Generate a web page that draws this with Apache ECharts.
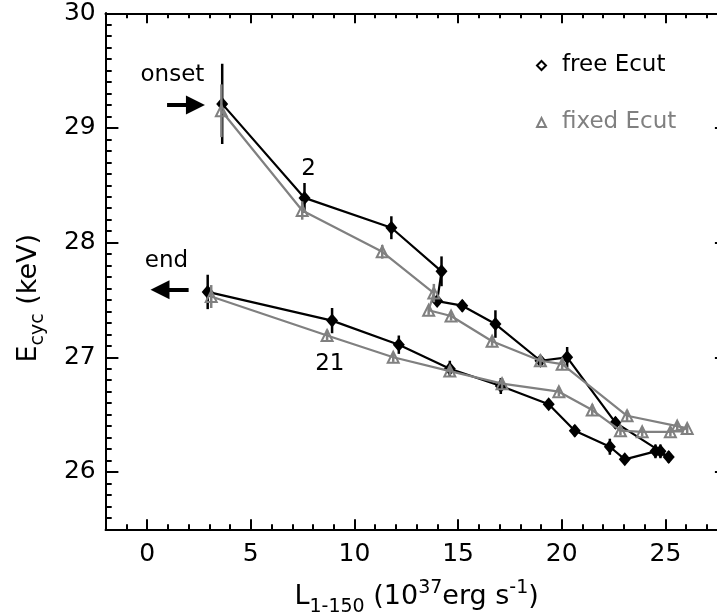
<!DOCTYPE html>
<html><head><meta charset="utf-8">
<script src="https://cdn.jsdelivr.net/npm/echarts@6/dist/echarts.min.js"></script>
<style>html,body{margin:0;padding:0;background:#fff}#c{width:717px;height:613px}</style>
</head><body><div id="c"></div>
<script>
// ---- data ----
const freeX = [3.62, 7.59, 11.78, 14.2, 13.99, 15.2, 16.8, 18.97, 20.26, 22.59, 24.76, 25.16, 24.52, 23.04, 22.32, 20.63, 19.37, 17.06, 14.6, 12.14, 8.92, 2.92];
const freeY = [29.21, 28.39, 28.13, 27.75, 27.49, 27.45, 27.29, 26.97, 27.0, 26.43, 26.18, 26.13, 26.18, 26.11, 26.22, 26.36, 26.59, 26.75, 26.9, 27.11, 27.32, 27.57];
const freeErr = [0.35, 0.13, 0.1, 0.13, 0.04, 0.05, 0.12, 0.05, 0.09, 0.05, 0.06, 0.05, 0.06, 0.04, 0.07, 0.05, 0.04, 0.07, 0.07, 0.08, 0.11, 0.15];

const fixX = [3.58, 7.48, 11.34, 13.83, 13.58, 14.66, 16.64, 18.97, 20.02, 23.15, 25.57, 26.05, 25.24, 23.88, 22.83, 21.47, 19.86, 17.12, 14.6, 11.87, 8.68, 3.09];
const fixY = [29.15, 28.28, 27.92, 27.56, 27.41, 27.36, 27.14, 26.97, 26.94, 26.49, 26.40, 26.38, 26.35, 26.35, 26.36, 26.54, 26.70, 26.77, 26.88, 27.0, 27.19, 27.53];
const fixErr = [0.23, 0.08, 0.06, 0.08, 0.04, 0.04, 0.04, 0.05, 0.05, 0.05, 0.04, 0.04, 0.04, 0.04, 0.04, 0.05, 0.04, 0.05, 0.04, 0.04, 0.05, 0.1];

const seriesNames = ['free Ecut', 'fixed Ecut'];
const xTickLabels = [0, 5, 10, 15, 20, 25];
const yTickLabels = [26, 27, 28, 29, 30];

// annotation texts and their data positions
const annoNames = ['onset', 'end', '2', '21'];
const annoX = [1.22, 0.93, 7.79, 8.81];
const annoY = [29.46, 27.84, 28.64, 26.94];
// arrows: [fromX, toX, y]
const arrowFromX = [0.96, 2.0];
const arrowToX = [2.33, 0.62];
const arrowY = [29.2, 27.59];

// ---- chart ----
const FONT = 'DejaVu Sans';
const GRAY = '#808080';
const XMIN = -2, XMAX = 28, YMIN = 25.5, YMAX = 30;
const gridRect = {left: 105.7, top: 13.3, right: -10.6, bottom: 83.7, containLabel: false, outerBoundsMode: 'none'};

function pairs(xs, ys) { return xs.map((x, i) => [x, ys[i]]); }
function triples(xs, ys, es) { return xs.map((x, i) => [x, ys[i], es[i]]); }
function errRender(color) {
  return function (params, api) {
    const x = api.value(0), y = api.value(1), e = api.value(2);
    const p1 = api.coord([x, y - e]), p2 = api.coord([x, y + e]);
    return {type: 'line', shape: {x1: p1[0], y1: p1[1], x2: p2[0], y2: p2[1]},
      style: {stroke: color, lineWidth: 2.5}};
  };
}
const axLine = {show: true, onZero: false, lineStyle: {color: '#000', width: 2}};
function tick(len, custom) {
  const t = {show: true, inside: true, length: len, lineStyle: {color: '#000', width: 2}};
  if (custom) t.customValues = custom;
  return t;
}
const labelStyle = {color: '#000', fontSize: 25, fontFamily: FONT};

const chart = echarts.init(document.getElementById('c'), null, {renderer: 'canvas'});
chart.setOption({
  animation: false,
  backgroundColor: '#fff',
  textStyle: {fontFamily: FONT},
  grid: [Object.assign({}, gridRect), Object.assign({}, gridRect)],
  xAxis: [
    // minor ticks (grid 0)
    {type: 'value', gridIndex: 0, position: 'bottom', min: XMIN, max: XMAX, interval: 1,
     axisLine: axLine, axisTick: tick(5), axisLabel: {show: false}, splitLine: {show: false}},
    {type: 'value', gridIndex: 0, position: 'top', min: XMIN, max: XMAX, interval: 1,
     axisLine: axLine, axisTick: tick(5), axisLabel: {show: false}, splitLine: {show: false}},
    // major ticks + labels (grid 1)
    {type: 'value', gridIndex: 1, position: 'bottom', min: XMIN, max: XMAX,
     axisLine: axLine, axisTick: tick(10, xTickLabels),
     axisLabel: Object.assign({show: true, margin: 13, customValues: xTickLabels}, labelStyle),
     splitLine: {show: false},
     name: '{i|L}{sub|1-150}{i| (10}{sup|37}{i|erg s}{sup|-1}{i|)}',
     nameLocation: 'middle', nameGap: 49,
     nameTextStyle: {color: '#000', fontFamily: FONT, fontSize: 27,
       rich: {i: {fontSize: 27, lineHeight: 38, fontFamily: FONT, color: '#000'},
              sub: {fontSize: 19, lineHeight: 19, verticalAlign: 'bottom', fontFamily: FONT, color: '#000'},
              sup: {fontSize: 19, lineHeight: 19, verticalAlign: 'top', fontFamily: FONT, color: '#000'}}}},
    {type: 'value', gridIndex: 1, position: 'top', min: XMIN, max: XMAX,
     axisLine: axLine, axisTick: tick(10, xTickLabels), axisLabel: {show: false}, splitLine: {show: false}}
  ],
  yAxis: [
    {type: 'value', gridIndex: 0, position: 'left', min: YMIN, max: YMAX, interval: 0.1,
     axisLine: axLine, axisTick: tick(6), axisLabel: {show: false}, splitLine: {show: false}},
    {type: 'value', gridIndex: 0, position: 'right', min: YMIN, max: YMAX, interval: 0.1,
     axisLine: axLine, axisTick: tick(6), axisLabel: {show: false}, splitLine: {show: false}},
    {type: 'value', gridIndex: 1, position: 'left', min: YMIN, max: YMAX,
     axisLine: axLine, axisTick: tick(12.7, yTickLabels),
     axisLabel: Object.assign({show: true, margin: 10, customValues: yTickLabels}, labelStyle),
     splitLine: {show: false},
     name: '{i|E}{sub|cyc}{i| (keV)}',
     nameLocation: 'middle', nameRotate: 90, nameGap: 58,
     nameTextStyle: {color: '#000', fontFamily: FONT, fontSize: 27, padding: [0, 54, 0, 0],
       rich: {i: {fontSize: 27, lineHeight: 38, fontFamily: FONT, color: '#000'},
              sub: {fontSize: 19, lineHeight: 19, verticalAlign: 'bottom', fontFamily: FONT, color: '#000'}}}},
    {type: 'value', gridIndex: 1, position: 'right', min: YMIN, max: YMAX,
     axisLine: axLine, axisTick: tick(12.7, yTickLabels), axisLabel: {show: false}, splitLine: {show: false}}
  ],
  legend: {
    orient: 'vertical', left: 531, top: 49, itemWidth: 9, itemHeight: 9, itemGap: 34,
    textStyle: {fontSize: 23, fontFamily: FONT, padding: [0, 0, 0, 11]},
    selectedMode: false,
    data: [
      {name: seriesNames[0], icon: 'diamond', itemStyle: {color: '#fff', borderColor: '#000', borderWidth: 2}, textStyle: {color: '#000'}},
      {name: seriesNames[1], icon: 'triangle', itemStyle: {color: '#fff', borderColor: GRAY, borderWidth: 2}, textStyle: {color: GRAY}}
    ]
  },
  series: [
    {type: 'custom', name: 'free err', xAxisIndex: 0, yAxisIndex: 0, z: 2,
     renderItem: errRender('#000'), encode: {x: 0, y: 1}, data: triples(freeX, freeY, freeErr), silent: true},
    {type: 'line', name: seriesNames[0], xAxisIndex: 0, yAxisIndex: 0, z: 3,
     data: pairs(freeX, freeY), symbol: 'diamond', symbolSize: [12, 14],
     itemStyle: {color: '#000'}, lineStyle: {color: '#000', width: 2.2},
     markPoint: {symbol: 'circle', symbolSize: 0, silent: true,
       label: {show: true, position: 'inside', formatter: '{b}', color: '#000', fontSize: 23, fontFamily: FONT},
       data: annoNames.map((n, i) => ({name: n, coord: [annoX[i], annoY[i]]}))},
     markLine: {silent: true, symbol: ['none', 'triangle'], symbolSize: 19,
       lineStyle: {color: '#000', width: 4, type: 'solid'}, label: {show: false},
       emphasis: {disabled: true},
       data: arrowY.map((y, i) => [{coord: [arrowFromX[i], y]}, {coord: [arrowToX[i], y]}])}},
    {type: 'custom', name: 'fixed err', xAxisIndex: 0, yAxisIndex: 0, z: 4,
     renderItem: errRender(GRAY), encode: {x: 0, y: 1}, data: triples(fixX, fixY, fixErr), silent: true},
    {type: 'line', name: seriesNames[1], xAxisIndex: 0, yAxisIndex: 0, z: 5,
     data: pairs(fixX, fixY), symbol: 'triangle', symbolSize: 11,
     itemStyle: {color: 'rgba(255,255,255,0)', borderColor: GRAY, borderWidth: 2},
     lineStyle: {color: GRAY, width: 2.2}}
  ]
});
</script>
</body></html>
